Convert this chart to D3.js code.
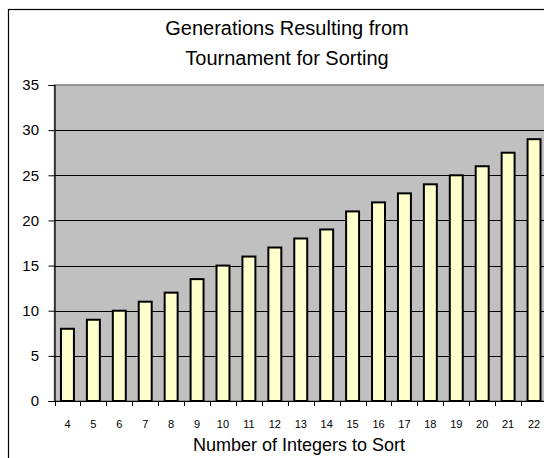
<!DOCTYPE html>
<html>
<head>
<meta charset="utf-8">
<script src="https://cdn.jsdelivr.net/npm/d3@7/dist/d3.min.js"></script>
<style>
  html, body { margin: 0; padding: 0; background: #fff; }
  svg { display: block; font-family: "Liberation Sans", Arial, sans-serif; }
</style>
</head>
<body>
<svg id="chart" width="544" height="458"></svg>
<script>
// Number of integers sorted, and generations needed by the tournament
const categories = [4, 5, 6, 7, 8, 9, 10, 11, 12, 13, 14, 15, 16, 17, 18, 19, 20, 21, 22];
const generations = [8, 9, 10, 11, 12, 13.5, 15, 16, 17, 18, 19, 21, 22, 23, 24, 25, 26, 27.5, 29];
const yTicks = [0, 5, 10, 15, 20, 25, 30, 35];
const titleLines = ["Generations Resulting from", "Tournament for Sorting"];
const xTitle = "Number of Integers to Sort";

const svg = d3.select("#chart");

const plot = { left: 54.5, top: 85, right: 547, bottom: 401 };

const x = d3.scaleBand()
  .domain(categories)
  .range([plot.left, plot.right])
  .padding(0);

const y = d3.scaleLinear()
  .domain([0, 35])
  .range([plot.bottom, plot.top]);

// outer chart frame (runs past the visible page on the right and bottom)
svg.append("rect")
  .attr("x", 8.5).attr("y", 9.5)
  .attr("width", 600).attr("height", 500)
  .attr("fill", "#fff")
  .attr("stroke", "#000")
  .attr("stroke-width", 1.2);

// title
svg.append("g")
  .selectAll("text")
  .data(titleLines)
  .join("text")
  .attr("x", 287)
  .attr("y", (d, i) => 35 + i * 30)
  .attr("text-anchor", "middle")
  .attr("font-size", 20)
  .attr("fill", "#000")
  .text(d => d);

// plot area background
svg.append("rect")
  .attr("x", plot.left).attr("y", y(35))
  .attr("width", 600).attr("height", y(0) - y(35))
  .attr("fill", "#c0c0c0")
  .attr("stroke", "#808080")
  .attr("stroke-width", 1.5);

// horizontal gridlines
svg.append("g")
  .selectAll("line")
  .data(yTicks.filter(t => t > 0 && t < 35))
  .join("line")
  .attr("x1", plot.left).attr("x2", 600)
  .attr("y1", d => Math.round(y(d)) + 0.5)
  .attr("y2", d => Math.round(y(d)) + 0.5)
  .attr("stroke", "#000")
  .attr("stroke-width", 1);

// bars
const barW = x.bandwidth() * 0.5;
svg.append("g")
  .selectAll("rect")
  .data(categories.map((c, i) => ({ c, v: generations[i] })))
  .join("rect")
  .attr("x", d => x(d.c) + (x.bandwidth() - barW) / 2)
  .attr("y", d => y(d.v))
  .attr("width", barW)
  .attr("height", d => y(0) - y(d.v))
  .attr("fill", "#ffffcc")
  .attr("stroke", "#000")
  .attr("stroke-width", 2);

// y axis
const yAxis = svg.append("g")
  .attr("transform", `translate(${plot.left},0)`)
  .call(d3.axisLeft(y).tickValues(yTicks).tickSize(6).tickPadding(9.5));
yAxis.select(".domain").attr("stroke", "#000").attr("stroke-width", 1.2);
yAxis.selectAll(".tick line").attr("stroke", "#000");
yAxis.selectAll(".tick text")
  .attr("font-size", 15)
  .attr("font-family", "Liberation Sans, Arial, sans-serif")
  .attr("fill", "#000");

// x axis: labels centred on categories, ticks on category boundaries
const xAxis = svg.append("g")
  .attr("transform", `translate(0,${plot.bottom})`)
  .call(d3.axisBottom(x).tickSize(0).tickPadding(19));
xAxis.select(".domain").remove();
xAxis.selectAll(".tick text")
  .attr("font-size", 11)
  .attr("font-family", "Liberation Sans, Arial, sans-serif")
  .attr("fill", "#000");

svg.append("line")
  .attr("x1", plot.left - 6).attr("x2", 600)
  .attr("y1", plot.bottom + 0.5).attr("y2", plot.bottom + 0.5)
  .attr("stroke", "#000").attr("stroke-width", 1.2);

svg.append("g")
  .selectAll("line")
  .data(categories.map(c => x(c)).concat([x(categories[categories.length - 1]) + x.bandwidth()]))
  .join("line")
  .attr("x1", d => Math.round(d) + 0.5).attr("x2", d => Math.round(d) + 0.5)
  .attr("y1", plot.bottom).attr("y2", plot.bottom + 5)
  .attr("stroke", "#000");

// x axis title
svg.append("text")
  .attr("x", 299).attr("y", 451)
  .attr("text-anchor", "middle")
  .attr("font-size", 18)
  .attr("fill", "#000")
  .text(xTitle);
</script>
</body>
</html>
